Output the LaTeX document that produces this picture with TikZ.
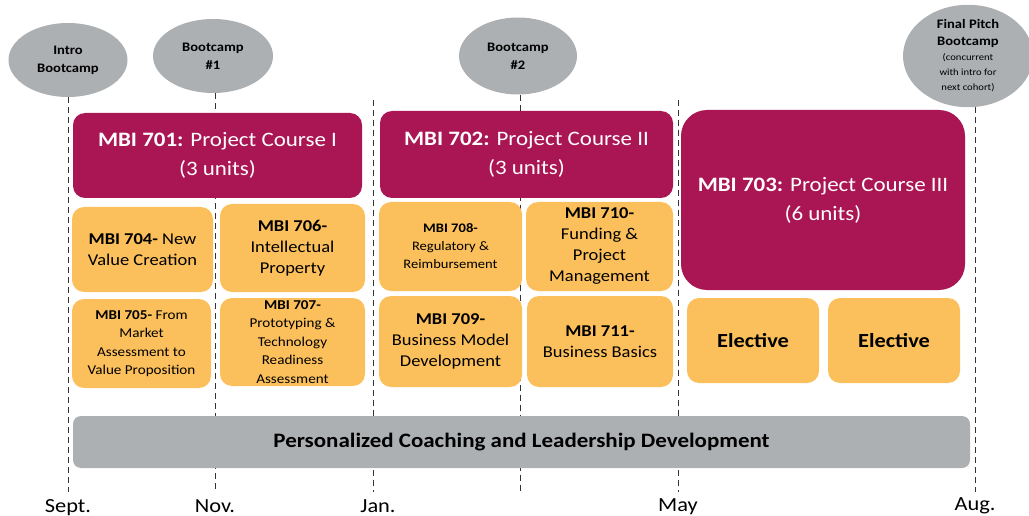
\documentclass[tikz,border=0pt]{standalone}
\usepackage{fontspec}
\setmainfont{Carlito}[FakeStretch=1.12]
\usetikzlibrary{shapes.geometric}
\definecolor{mbipurple}{RGB}{170,22,84}
\definecolor{mbiorange}{RGB}{251,192,91}
\definecolor{mbigray}{RGB}{173,176,179}
\tikzset{
  camp/.style={ellipse, fill=mbigray, draw=none, inner sep=0pt, align=center, font=\fontsize{13}{18}\selectfont\bfseries},
  course/.style={rounded corners=12pt, fill=mbipurple, text=white, align=center, inner sep=0pt, font=\fontsize{20.5}{29}\selectfont},
  sub/.style={rounded corners=12pt, fill=mbiorange, text=black, align=center, inner sep=0pt, font=\fontsize{16.5}{21}\selectfont},
  subsmall/.style={sub, font=\fontsize{13.5}{18.5}\selectfont},
  timeline/.style={dashed, dash pattern=on 6pt off 4pt, line width=0.7pt, black!80},
  month/.style={font=\fontsize{20}{24}\selectfont, anchor=base}
}
\begin{document}
\begin{tikzpicture}[x=1pt,y=-1pt]
\useasboundingbox (0,0) rectangle (1029,516);
% ellipses
\node[camp, minimum width=119pt, minimum height=74pt] (intro) at (68,60) {Intro\\Bootcamp};
\node[camp, minimum width=120pt, minimum height=74pt] (bc1) at (213,56) {Bootcamp\\\#1};
\node[camp, minimum width=118pt, minimum height=77pt] (bc2) at (518,56) {Bootcamp\\\#2};
\node[camp, minimum width=130pt, minimum height=84pt] (final) at (968,56) {\fontsize{13}{17}\selectfont Final Pitch\\[-1pt]Bootcamp\\[-3pt]{\fontsize{9.5}{15}\selectfont\mdseries (concurrent}\\[-3pt]{\fontsize{9.5}{15}\selectfont\mdseries with intro for}\\[-3pt]{\fontsize{9.5}{15}\selectfont\mdseries next cohort)}};
% timeline coordinates
\coordinate (sepE) at (68,492);
\coordinate (novE) at (215,492);
\coordinate (janS) at (373,100);
\coordinate (janE) at (373,492);
\coordinate (bc2E) at (520,492);
\coordinate (mayS) at (678,100);
\coordinate (mayE) at (678,492);
\coordinate (augE) at (975,492);
\draw[timeline] (intro.south) -- (sepE);
\draw[timeline] (bc1.south) ++(2,0) -- (novE);
\draw[timeline] (janS) -- (janE);
\draw[timeline] (bc2.south) ++(2,0) -- (bc2E);
\draw[timeline] (mayS) -- (mayE);
\draw[timeline] (final.south) ++(7,0) -- (augE);
% courses
\node[course, minimum width=289pt, minimum height=85pt] (c701) at (217.5,155.5) {\textbf{MBI 701:} Project Course I\\(3 units)};
\node[course, minimum width=293pt, minimum height=87pt] (c702) at (526.5,154.5) {\textbf{MBI 702:} Project Course II\\(3 units)};
\node[course, rounded corners=26pt, minimum width=284pt, minimum height=180pt] (c703) at (823,200) {\textbf{MBI 703:} Project Course III\\(6 units)};
% subjects
\node[sub, minimum width=141pt, minimum height=85pt] (c704) at (142.5,249.5) {\textbf{MBI 704-} New\\Value Creation};
\node[subsmall, minimum width=139pt, minimum height=89pt] (c705) at (141.5,343.5) {\textbf{MBI 705-} From\\Market\\Assessment to\\Value Proposition};
\node[sub, minimum width=145pt, minimum height=88pt] (c706) at (292.5,248) {\textbf{MBI 706-}\\Intellectual\\Property};
\node[subsmall, minimum width=145pt, minimum height=88pt] (c707) at (292.5,342) {\textbf{MBI 707-}\\Prototyping \&\\Technology\\Readiness\\Assessment};
\node[subsmall, font=\fontsize{13}{18}\selectfont, minimum width=143pt, minimum height=89pt] (c708) at (450.5,246.5) {\textbf{MBI 708-}\\Regulatory \&\\Reimbursement};
\node[sub, minimum width=143pt, minimum height=91pt] (c709) at (450.5,341.5) {\textbf{MBI 709-}\\Business Model\\Development};
\node[sub, minimum width=147pt, minimum height=89pt] (c710) at (599.5,246.5) {\textbf{MBI 710-}\\Funding \&\\Project\\Management};
\node[sub, minimum width=146pt, minimum height=91pt] (c711) at (600,341.5) {\textbf{MBI 711-}\\Business Basics};
\node[sub, font=\fontsize{20}{24}\selectfont\bfseries, minimum width=132pt, minimum height=85pt] (el1) at (753,340.5) {Elective};
\node[sub, font=\fontsize{20}{24}\selectfont\bfseries, minimum width=132pt, minimum height=85pt] (el2) at (894,340.5) {Elective};
% coaching bar
\node[fill=mbigray, rounded corners=8pt, minimum width=897pt, minimum height=52pt, inner sep=0pt, font=\fontsize{20.5}{24}\selectfont\bfseries] (coach) at (521.5,442) {Personalized Coaching and Leadership Development};
% months
\node[month] (sept) at (68,512) {Sept.};
\node[month] (nov) at (215,512) {Nov.};
\node[month] (jan) at (378,512) {Jan.};
\node[month] (may) at (678,511) {May};
\node[month] (aug) at (975,510) {Aug.};
\end{tikzpicture}
\end{document}
